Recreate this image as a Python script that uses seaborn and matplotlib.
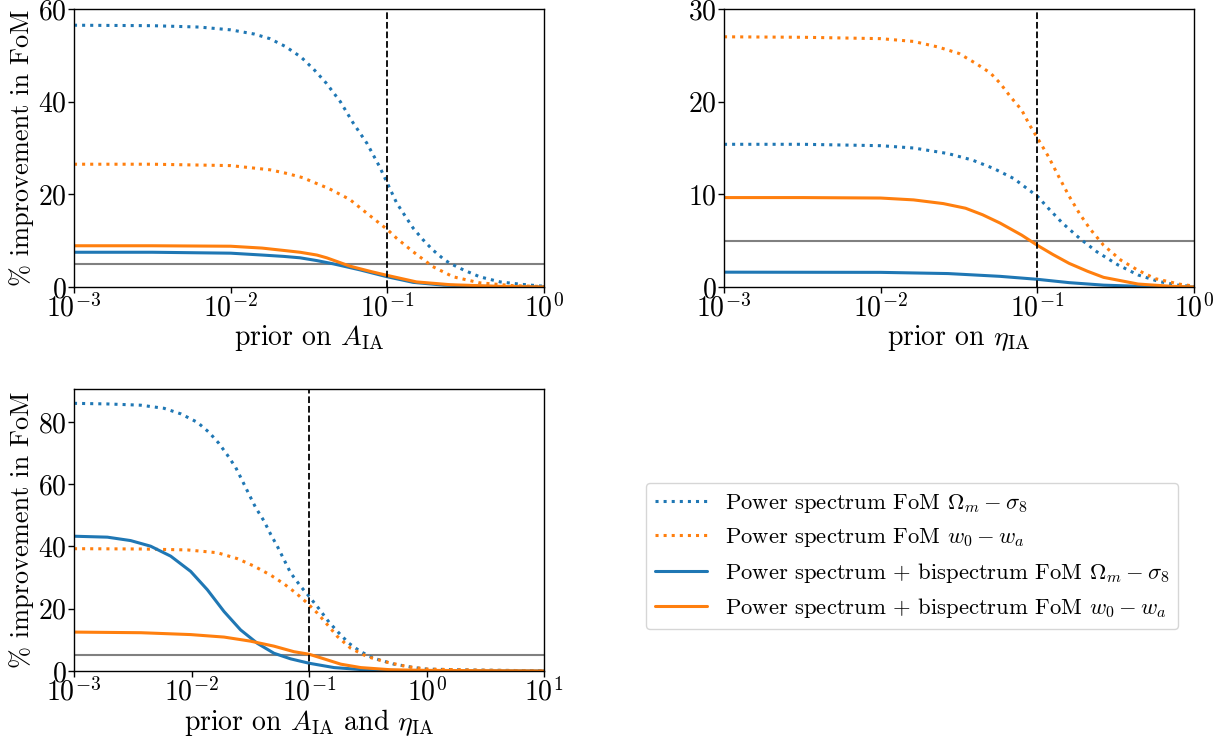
import numpy as np
import pandas as pd
import matplotlib
matplotlib.use("Agg")
import matplotlib.pyplot as plt
from matplotlib.ticker import MultipleLocator
import seaborn as sns

# ---------------- data (x given as log10 of prior) ----------------
# Panel 1: prior on A_IA
A_ps_om_exp = [-3, -2.5, -2.2, -2.0, -1.85, -1.75, -1.65, -1.55, -1.47, -1.39, -1.30, -1.22, -1.13,
               -1.05, -1.0, -0.94, -0.88, -0.835, -0.775, -0.71, -0.64, -0.6, -0.515, -0.41, -0.28, -0.15, 0]
A_ps_om = [56.5, 56.4, 56.1, 55.5, 54.6, 53.6, 51.9, 49.6, 47.0, 44.0, 40.0, 35.5, 31.0,
           26.0, 22.4, 18.1, 15.0, 12.7, 10.3, 8.0, 6.0, 5.1, 3.7, 2.2, 1.1, 0.6, 0.15]
A_ps_w_exp = [-3, -2.5, -2.0, -1.75, -1.64, -1.54, -1.47, -1.37, -1.24, -1.13, -1.0, -0.94, -0.835,
              -0.71, -0.58, -0.41, -0.2, 0]
A_ps_w = [26.5, 26.5, 26.2, 25.3, 24.5, 23.6, 22.6, 21.2, 18.9, 15.9, 12.4, 10.5, 7.6,
          4.4, 2.2, 0.9, 0.3, 0.1]
A_bs_om_exp = [-3, -2.5, -2.0, -1.8, -1.66, -1.557, -1.45, -1.345, -1.24, -1.175, -1.0, -0.835, -0.64, -0.4, 0]
A_bs_om = [7.5, 7.5, 7.3, 6.9, 6.6, 6.3, 5.7, 5.0, 4.2, 3.7, 2.2, 1.0, 0.4, 0.15, 0.0]
A_bs_w_exp = [-3, -2.5, -2.0, -1.8, -1.664, -1.557, -1.45, -1.387, -1.28, -1.239, -1.1, -1.0, -0.814, -0.6, -0.3, 0]
A_bs_w = [8.9, 8.9, 8.8, 8.4, 7.9, 7.5, 6.9, 6.3, 5.0, 4.5, 3.3, 2.5, 1.1, 0.5, 0.15, 0.0]

# Panel 2: prior on eta_IA
E_ps_om_exp = [-3, -2.5, -2.0, -1.79, -1.57, -1.415, -1.28, -1.15, -1.04, -1.0, -0.93, -0.84, -0.73,
               -0.62, -0.487, -0.357, -0.225, -0.1, 0]
E_ps_om = [15.4, 15.4, 15.25, 15.0, 14.4, 13.7, 12.8, 11.7, 10.3, 9.8, 8.5, 6.9, 5.25,
           3.8, 2.4, 1.3, 0.6, 0.2, 0.05]
E_ps_w_exp = [-3, -2.5, -2.0, -1.79, -1.634, -1.5, -1.39, -1.30, -1.238, -1.17, -1.10, -1.05, -1.0,
              -0.93, -0.863, -0.797, -0.73, -0.665, -0.577, -0.467, -0.357, -0.247, -0.09, 0]
E_ps_w = [27.0, 26.95, 26.8, 26.5, 25.9, 25.2, 24.1, 23.1, 22.0, 20.5, 19.1, 17.5, 16.1,
          14.1, 11.9, 9.8, 7.9, 6.3, 4.5, 2.9, 1.8, 0.9, 0.3, 0.1]
E_bs_om_exp = [-3, -2.0, -1.57, -1.238, -1.0, -0.797, -0.577, -0.3, 0]
E_bs_om = [1.6, 1.58, 1.45, 1.15, 0.83, 0.47, 0.2, 0.05, 0.0]
E_bs_w_exp = [-3, -2.5, -2.0, -1.79, -1.6, -1.458, -1.35, -1.238, -1.1, -1.0, -0.9, -0.797, -0.68,
              -0.577, -0.357, -0.15, 0]
E_bs_w = [9.65, 9.65, 9.6, 9.4, 9.0, 8.5, 7.8, 6.9, 5.6, 4.5, 3.5, 2.55, 1.7, 1.04, 0.32, 0.08, 0.0]

# Panel 3: prior on A_IA and eta_IA
B_ps_om_exp = [-3, -2.716, -2.433, -2.234, -2.09, -1.95, -1.851, -1.766, -1.695, -1.624, -1.567, -1.511,
               -1.454, -1.383, -1.326, -1.27, -1.213, -1.156, -1.071, -1.0, -0.915, -0.83, -0.745,
               -0.66, -0.56, -0.447, -0.277, -0.106, 0.007, 0.4, 1.0]
B_ps_om = [86.0, 85.8, 85.4, 84.4, 82.6, 79.9, 76.7, 73.1, 69.4, 65.4, 61.1, 56.8,
           52.5, 48.2, 43.9, 40.1, 35.8, 31.5, 27.2, 24.0, 20.0, 15.7, 12.2,
           8.9, 6.2, 4.1, 2.2, 1.1, 0.6, 0.3, 0.05]
B_ps_w_exp = [-3, -2.43, -2.035, -1.78, -1.61, -1.468, -1.326, -1.213, -1.113, -1.014, -0.929, -0.844,
              -0.759, -0.645, -0.504, -0.333, -0.163, 0.007, 0.4, 1.0]
B_ps_w = [39.3, 39.2, 38.9, 38.0, 36.1, 33.7, 30.8, 28.0, 25.1, 21.8, 18.6, 14.9,
          11.1, 7.3, 4.6, 2.8, 1.4, 0.6, 0.3, 0.05]
B_bs_om_exp = [-3, -2.716, -2.518, -2.348, -2.177, -2.007, -1.865, -1.723, -1.582, -1.44, -1.298,
               -1.156, -1.0, -0.787, -0.532, -0.16, 1.0]
B_bs_om = [43.3, 43.0, 41.9, 40.1, 36.9, 32.0, 26.1, 19.1, 13.2, 8.9, 5.7, 3.9, 2.5, 1.1, 0.4, 0.1, 0.0]
B_bs_w_exp = [-3, -2.43, -2.007, -1.723, -1.5, -1.3, -1.128, -1.0, -0.872, -0.73, -0.56, -0.305, 0.007, 1.0]
B_bs_w = [12.5, 12.3, 11.7, 10.9, 9.6, 8.0, 6.2, 5.4, 3.9, 2.2, 1.1, 0.4, 0.2, 0.0]

labels = [r"Power spectrum FoM $\Omega_m-\sigma_8$",
          r"Power spectrum FoM $w_0-w_a$",
          r"Power spectrum + bispectrum FoM $\Omega_m-\sigma_8$",
          r"Power spectrum + bispectrum FoM $w_0-w_a$"]
xlabels = [r"prior on $A_{\rm IA}$", r"prior on $\eta_{\rm IA}$",
           r"prior on $A_{\rm IA}$ and $\eta_{\rm IA}$"]
ylabel = "% improvement in FoM"
ylims = [60, 30, 90.6]
ysteps = [20, 10, 20]
xmaxs = [1.0, 1.0, 10.0]
threshold = 5.0
fiducial_prior = 0.1

panels = [
    [(A_ps_om_exp, A_ps_om), (A_ps_w_exp, A_ps_w), (A_bs_om_exp, A_bs_om), (A_bs_w_exp, A_bs_w)],
    [(E_ps_om_exp, E_ps_om), (E_ps_w_exp, E_ps_w), (E_bs_om_exp, E_bs_om), (E_bs_w_exp, E_bs_w)],
    [(B_ps_om_exp, B_ps_om), (B_ps_w_exp, B_ps_w), (B_bs_om_exp, B_bs_om), (B_bs_w_exp, B_bs_w)],
]

# ---------------- style ----------------
sns.set_theme(style="ticks")
plt.rcParams.update({
    "font.family": ["cmr10", "DejaVu Serif"],
    "mathtext.fontset": "cm",
    "axes.unicode_minus": False,
    "axes.formatter.use_mathtext": True,
    "axes.edgecolor": "black",
    "axes.labelcolor": "black",
    "xtick.color": "black",
    "ytick.color": "black",
    "text.color": "black",
    "axes.linewidth": 1.0,
    "xtick.minor.visible": False,
})

W, H = 1231, 738
fig = plt.figure(figsize=(W / 100, H / 100), dpi=100)
rects = [(74, 9, 470, 278), (724, 9, 470, 278), (74, 389, 470, 282)]
axes = [fig.add_axes([l / W, 1 - (t + h) / H, w / W, h / H]) for (l, t, w, h) in rects]

colors = ["#1f77b4", "#ff7f0e", "#1f77b4", "#ff7f0e"]
styles = [":", ":", "-", "-"]

for i, ax in enumerate(axes):
    for j, (ex, vals) in enumerate(panels[i]):
        df = pd.DataFrame({"x": 10.0 ** np.asarray(ex), "y": vals})
        sns.lineplot(data=df, x="x", y="y", ax=ax, color=colors[j], linestyle=styles[j],
                     linewidth=2.2, label=labels[j], sort=False, estimator=None)
    ax.axhline(threshold, color="grey", lw=1.5, zorder=1)
    ax.axvline(fiducial_prior, color="black", ls="--", lw=1.3)
    ax.set_xscale("log")
    ax.set_xlim(1e-3, xmaxs[i])
    ax.set_ylim(0, ylims[i])
    ax.yaxis.set_major_locator(MultipleLocator(ysteps[i]))
    ax.minorticks_off()
    ax.set_xlabel(xlabels[i], fontsize=20, labelpad=0)
    if i != 1:
        ax.set_ylabel(ylabel, fontsize=19, labelpad=3)
    else:
        ax.set_ylabel("")
    ax.tick_params(labelsize=20, length=4, width=1, pad=1)
    if ax.get_legend() is not None:
        ax.get_legend().remove()

handles, labs = axes[2].get_legend_handles_labels()
fig.legend(handles[:4], labs[:4], loc="center", bbox_to_anchor=(912 / W, 1 - 556 / H),
           fontsize=16.3, frameon=True, handlelength=2.3)

fig.savefig("out.png", dpi=100)
